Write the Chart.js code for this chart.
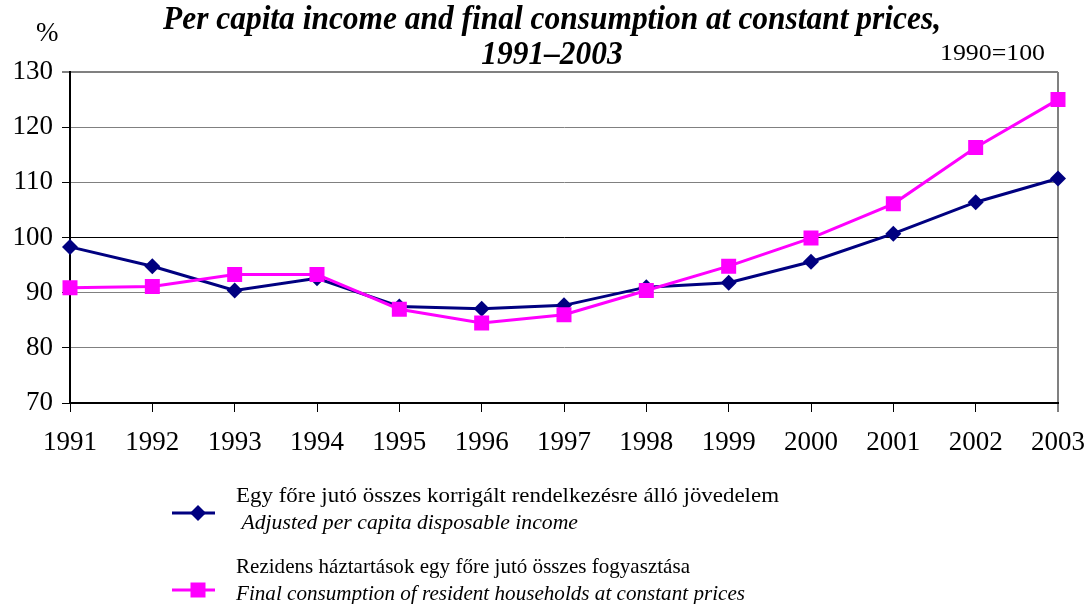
<!DOCTYPE html>
<html>
<head>
<meta charset="utf-8">
<script src="https://cdn.jsdelivr.net/npm/chart.js@4.4.0/dist/chart.umd.min.js"></script>
<style>
  html, body { margin: 0; padding: 0; background: #fff; }
  #wrap { width: 1084px; height: 604px; }
</style>
</head>
<body>
<div id="wrap"><canvas id="lineChart" width="1084" height="604"></canvas></div>
<script>
// Data (1990 = 100)
const years = ['1991', '1992', '1993', '1994', '1995', '1996', '1997', '1998', '1999', '2000', '2001', '2002', '2003'];
const incomeIndex = [98.3, 94.8, 90.4, 92.6, 87.5, 87.1, 87.7, 91.0, 91.8, 95.6, 100.7, 106.4, 110.7];
const consumptionIndex = [90.9, 91.1, 93.3, 93.3, 87.0, 84.5, 86.0, 90.4, 94.8, 99.9, 106.1, 116.3, 125.0];
const yRange = [70, 130];
const yStep = 10;

const titleLines = ['Per capita income and final consumption at constant prices,', '1991–2003'];
const unitLabel = '%';
const baseLabel = '1990=100';
const seriesNamesHu = [
  'Egy főre jutó összes korrigált rendelkezésre álló jövedelem',
  'Rezidens háztartások egy főre jutó összes fogyasztása'
];
const seriesNamesEn = [
  ' Adjusted per capita disposable income',
  'Final consumption of resident households at constant prices'
];

const NAVY = '#000080';
const MAGENTA = '#FF00FF';
const FONT = "'Liberation Serif', 'Times New Roman', serif";

function drawMarker(ctx, style, x, y, color) {
  ctx.save();
  ctx.fillStyle = color;
  ctx.beginPath();
  if (style === 'rectRot') {
    ctx.moveTo(x, y - 8);
    ctx.lineTo(x + 8, y);
    ctx.lineTo(x, y + 8);
    ctx.lineTo(x - 8, y);
    ctx.closePath();
  } else {
    ctx.rect(x - 7.5, y - 7.5, 15, 15);
  }
  ctx.fill();
  ctx.restore();
}

// draws text squeezed/stretched to a given width
function fitText(ctx, text, x, y, width, align) {
  const w = ctx.measureText(text).width;
  const sx = width / w;
  ctx.save();
  ctx.translate(x, y);
  ctx.scale(sx, 1);
  ctx.textAlign = align;
  ctx.fillText(text, 0, 0);
  ctx.restore();
  return sx;
}

const decorations = {
  id: 'decorations',
  afterDraw(chart) {
    const ctx = chart.ctx;
    ctx.save();
    ctx.fillStyle = '#000';
    ctx.textBaseline = 'alphabetic';

    // title
    ctx.font = 'bold italic 34px ' + FONT;
    const sx = fitText(ctx, titleLines[0], 552, 29, 778, 'center');
    ctx.save();
    ctx.translate(552, 64);
    ctx.scale(sx, 1);
    ctx.textAlign = 'center';
    ctx.fillText(titleLines[1], 0, 0);
    ctx.restore();

    // unit and base year
    ctx.font = '27px ' + FONT;
    ctx.textAlign = 'left';
    ctx.fillText(unitLabel, 36, 41);
    ctx.font = '24px ' + FONT;
    fitText(ctx, baseLabel, 1045, 60, 105, 'right');

    // legend
    const rows = [
      { y: 513, color: NAVY, style: 'rectRot', textY: [496, 523], widths: [543, 342] },
      { y: 590, color: MAGENTA, style: 'rect', textY: [567, 594], widths: [454, 509] }
    ];
    rows.forEach((r, i) => {
      ctx.strokeStyle = r.color;
      ctx.lineWidth = 3;
      ctx.beginPath();
      ctx.moveTo(172, r.y);
      ctx.lineTo(215, r.y);
      ctx.stroke();
      drawMarker(ctx, r.style, 198, r.y, r.color);

      ctx.fillStyle = '#000';
      ctx.textBaseline = 'middle';
      ctx.font = '21px ' + FONT;
      fitText(ctx, seriesNamesHu[i], 236, r.textY[0], r.widths[0], 'left');
      ctx.font = 'italic 21px ' + FONT;
      fitText(ctx, seriesNamesEn[i], 236, r.textY[1], r.widths[1], 'left');
    });
    ctx.restore();
  }
};

const ctx = document.getElementById('lineChart').getContext('2d');
new Chart(ctx, {
  type: 'line',
  data: {
    labels: years,
    datasets: [{
      label: seriesNamesEn[0].trim(),
      data: incomeIndex,
      borderColor: NAVY,
      backgroundColor: NAVY,
      borderWidth: 3,
      pointStyle: 'rectRot',
      pointRadius: 8,
      pointBorderWidth: 0,
      tension: 0,
      order: 1
    },
    {
      label: seriesNamesEn[1],
      data: consumptionIndex,
      borderColor: MAGENTA,
      backgroundColor: MAGENTA,
      borderWidth: 3,
      pointStyle: 'rect',
      pointRadius: 10.6,
      pointBorderWidth: 0,
      tension: 0,
      order: 0
    }]
  },
  options: {
    responsive: false,
    animation: false,
    layout: { padding: { top: 72, right: 26, bottom: 141, left: 0 } },
    plugins: {
      legend: { display: false },
      title: { display: false },
      tooltip: { enabled: false }
    },
    scales: {
      x: {
        offset: false,
        grid: {
          drawOnChartArea: true,
          color: c => c.index === years.length - 1 ? '#808080' : 'rgba(0,0,0,0)',
          lineWidth: c => c.index === years.length - 1 ? 2 : 1,
          tickColor: '#000',
          tickWidth: 1,
          tickLength: 9
        },
        border: { color: '#000', width: 2 },
        ticks: {
          color: '#000',
          font: { family: FONT, size: 27 },
          padding: 15,
          maxRotation: 0,
          autoSkip: false
        },
        afterFit: s => { s.height = 60; s.paddingLeft = 0; s.paddingRight = 0; }
      },
      y: {
        min: yRange[0],
        max: yRange[1],
        grid: {
          color: c => c.tick && c.tick.value === 100 ? '#000' : '#808080',
          lineWidth: c => c.tick && c.tick.value === yRange[1] ? 2 : 1,
          tickColor: '#000',
          tickWidth: 1,
          tickLength: 8
        },
        border: { color: '#000', width: 2 },
        ticks: {
          stepSize: yStep,
          color: '#000',
          font: { family: FONT, size: 27 },
          padding: 9
        },
        afterFit: s => { s.width = 70; s.paddingTop = 0; s.paddingBottom = 0; }
      }
    }
  },
  plugins: [decorations]
});
</script>
</body>
</html>
